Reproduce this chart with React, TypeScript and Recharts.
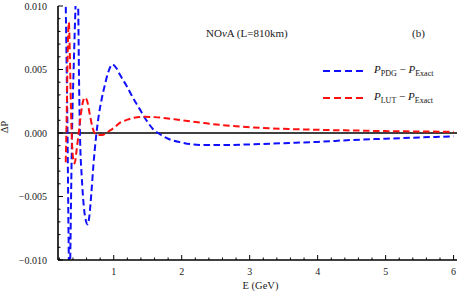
import {
  LineChart,
  Line,
  XAxis,
  YAxis,
  ReferenceLine,
  Legend,
} from 'recharts';

// energies (GeV) and P_PDG - P_Exact
const pdgEnergy = [
  0.29, 0.305, 0.32, 0.335, 0.35, 0.36, 0.375, 0.39, 0.41, 0.435, 0.455, 0.475,
  0.49, 0.505, 0.53, 0.56, 0.59, 0.615, 0.64, 0.67, 0.7, 0.74, 0.78, 0.82,
  0.87, 0.92, 0.98, 1.04, 1.09, 1.19, 1.28, 1.38, 1.48, 1.58, 1.68, 1.8, 2.0,
  2.3, 2.6, 3.0, 3.5, 4.0, 4.5, 5.0, 5.5, 6.0,
];
const pdgDelta = [
  0.0115, 0.006, 0.0, -0.008, -0.013, -0.01, -0.004, 0.001, 0.005, 0.0095,
  0.0125, 0.0105, 0.004, -0.0005, -0.0035, -0.0058, -0.0069, -0.0072, -0.0066,
  -0.0048, -0.0026, -0.0003, 0.0014, 0.0026, 0.0038, 0.0048, 0.0054, 0.0051,
  0.0046, 0.0037, 0.0028, 0.0019, 0.001, 0.0003, -0.0001, -0.00045, -0.00075,
  -0.00095, -0.00095, -0.0009, -0.0008, -0.0007, -0.00055, -0.00045, -0.00035,
  -0.00026,
];

// energies (GeV) and P_LUT - P_Exact
const lutEnergy = [
  0.294, 0.31, 0.325, 0.34, 0.355, 0.375, 0.4, 0.425, 0.45, 0.48, 0.51, 0.54,
  0.575, 0.61, 0.65, 0.69, 0.72, 0.78, 0.84, 0.9, 0.94, 1.0, 1.09, 1.2, 1.3,
  1.45, 1.6, 1.8, 2.0, 2.3, 2.6, 3.0, 3.5, 4.0, 4.5, 5.0, 5.5, 6.0,
];
const lutDelta = [
  -0.0023, 0.002, 0.007, 0.0087, 0.006, 0.001, -0.0019, -0.0024, -0.0015,
  -0.0002, 0.0012, 0.0023, 0.0028, 0.0025, 0.0014, 0.0004, 0.0, -0.00015,
  -0.00015, 0.00005, 0.00018, 0.0004, 0.0008, 0.00105, 0.0012, 0.00128,
  0.00125, 0.00115, 0.001, 0.0008, 0.00062, 0.00045, 0.00033, 0.00025, 0.0002,
  0.00015, 0.00012, 0.0001,
];

const energyTicks = [
  0.2, 0.4, 0.6, 0.8, 1, 1.2, 1.4, 1.6, 1.8, 2, 2.2, 2.4, 2.6, 2.8, 3, 3.2, 3.4,
  3.6, 3.8, 4, 4.2, 4.4, 4.6, 4.8, 5, 5.2, 5.4, 5.6, 5.8, 6,
];
const deltaTicks = [
  -0.01, -0.009, -0.008, -0.007, -0.006, -0.005, -0.004, -0.003, -0.002,
  -0.001, 0, 0.001, 0.002, 0.003, 0.004, 0.005, 0.006, 0.007, 0.008, 0.009,
  0.01,
];

const pdgData = pdgEnergy.map((e, i) => ({ e, d: pdgDelta[i] }));
const lutData = lutEnergy.map((e, i) => ({ e, d: lutDelta[i] }));

const SERIF = '"Liberation Serif", "DejaVu Serif", serif';
const BLUE = '#1010ff';
const RED = '#ff1010';

const isMajorX = (v: number) => Math.abs(v - Math.round(v)) < 1e-6;
const isMajorY = (v: number) => Math.abs(v * 200 - Math.round(v * 200)) < 1e-6;
const fmtY = (v: number) => (Math.abs(v) < 1e-9 ? '0.000' : v.toFixed(3).replace('-', '\u2212'));

function BottomTick({ x, y, payload }: any) {
  const major = isMajorX(payload.value);
  return (
    <g>
      <line x1={x} y1={y} x2={x} y2={y - (major ? 5 : 2.5)} stroke="#000" strokeWidth={1} />
      {major && (
        <text x={x} y={y + 15} textAnchor="middle" fontSize={10} fontFamily={SERIF} fill="#222">
          {payload.value}
        </text>
      )}
    </g>
  );
}

function TopTick({ x, y, payload }: any) {
  const major = isMajorX(payload.value);
  return <line x1={x} y1={y} x2={x} y2={y + (major ? 5 : 2.5)} stroke="#000" strokeWidth={1} />;
}

function LeftTick({ x, y, payload }: any) {
  const major = isMajorY(payload.value);
  return (
    <g>
      <line x1={x} y1={y} x2={x + (major ? 5 : 2.5)} y2={y} stroke="#000" strokeWidth={1} />
      {major && (
        <text x={x - 11} y={y + 3.5} textAnchor="end" fontSize={10} fontFamily={SERIF} fill="#222">
          {fmtY(payload.value)}
        </text>
      )}
    </g>
  );
}

function RightTick({ x, y, payload }: any) {
  const major = isMajorY(payload.value);
  return <line x1={x} y1={y} x2={x - (major ? 5 : 2.5)} y2={y} stroke="#000" strokeWidth={1} />;
}

const legendRows = [
  { color: BLUE, sub: 'PDG' },
  { color: RED, sub: 'LUT' },
];

function LegendBox() {
  return (
    <div style={{ fontFamily: SERIF, fontSize: 11, color: '#111' }}>
      {legendRows.map((r) => (
        <div key={r.sub} style={{ display: 'flex', alignItems: 'center', height: 27 }}>
          <svg width={40} height={4}>
            <line x1={0} y1={2} x2={40} y2={2} stroke={r.color} strokeWidth={2} strokeDasharray="7 4" />
          </svg>
          <span style={{ marginLeft: 11, whiteSpace: 'nowrap' }}>
            <i>P</i>
            <sub style={{ fontSize: 8 }}>{r.sub}</sub> {'\u2212'} <i>P</i>
            <sub style={{ fontSize: 8 }}>Exact</sub>
          </span>
        </div>
      ))}
    </div>
  );
}

export default function App() {
  return (
    <div style={{ position: 'absolute', left: 0, top: 0, width: 463, height: 300, background: '#fff', fontFamily: SERIF }}>
      <LineChart width={463} height={300} margin={{ top: 6, right: 6, bottom: 0, left: 0 }}>
        <XAxis
          dataKey="e"
          type="number"
          domain={[0.18, 6.05]}
          ticks={energyTicks}
          interval={0}
          allowDataOverflow
          height={40}
          tickSize={0}
          tickMargin={0}
          tick={<BottomTick />}
          tickLine={false}
          axisLine={{ stroke: '#000', strokeWidth: 1.6 }}
        />
        <XAxis
          xAxisId="top"
          orientation="top"
          type="number"
          domain={[0.18, 6.05]}
          ticks={energyTicks}
          interval={0}
          allowDataOverflow
          height={0}
          tickSize={0}
          tickMargin={0}
          tick={<TopTick />}
          tickLine={false}
          axisLine={{ stroke: '#444', strokeWidth: 1 }}
        />
        <YAxis
          dataKey="d"
          type="number"
          domain={[-0.01, 0.01]}
          ticks={deltaTicks}
          interval={0}
          allowDataOverflow
          width={58}
          tickSize={0}
          tickMargin={0}
          tick={<LeftTick />}
          tickLine={false}
          axisLine={{ stroke: '#000', strokeWidth: 1.6 }}
          label={{ value: '\u0394P', angle: -90, position: 'insideLeft', offset: 4, fontSize: 10, fontFamily: SERIF, fill: '#222' }}
        />
        <YAxis
          yAxisId="right"
          orientation="right"
          type="number"
          domain={[-0.01, 0.01]}
          ticks={deltaTicks}
          interval={0}
          allowDataOverflow
          width={0}
          tickSize={0}
          tickMargin={0}
          tick={<RightTick />}
          tickLine={false}
          axisLine={{ stroke: '#444', strokeWidth: 1 }}
        />
        <ReferenceLine y={0} stroke="#000" strokeWidth={1.6} />
        <Line
          data={pdgData}
          dataKey="d"
          type="monotone"
          stroke={BLUE}
          strokeWidth={2}
          strokeDasharray="6.5 3.5"
          dot={false}
          isAnimationActive={false}
          name="PDG"
        />
        <Line
          data={lutData}
          dataKey="d"
          type="monotone"
          stroke={RED}
          strokeWidth={2}
          strokeDasharray="6.5 3.5"
          dot={false}
          isAnimationActive={false}
          name="LUT"
        />
        <Legend
          layout="vertical"
          verticalAlign="middle"
          align="center"
          content={<LegendBox />}
          wrapperStyle={{ position: 'absolute', left: 323, top: 57, width: 140 }}
        />
      </LineChart>
      <div style={{ position: 'absolute', left: 206, top: 27, fontSize: 11, color: '#222', whiteSpace: 'nowrap' }}>
        NO<i>ν</i>A (L=810km)
      </div>
      <div style={{ position: 'absolute', left: 412, top: 27, fontSize: 11, color: '#222' }}>(b)</div>
      <div style={{ position: 'absolute', left: 0, width: 463, top: 280, paddingLeft: 58, boxSizing: 'border-box', textAlign: 'center', fontSize: 10.5, color: '#222' }}>
        E (GeV)
      </div>
    </div>
  );
}
